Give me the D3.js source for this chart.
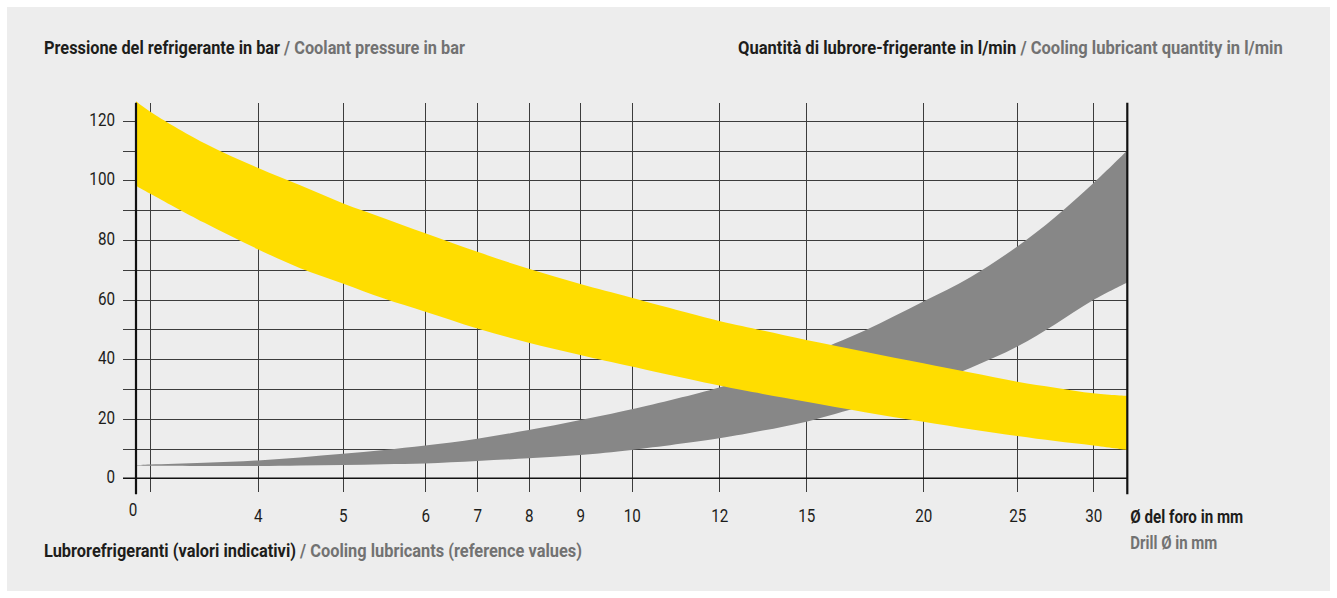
<!DOCTYPE html>
<html>
<head>
<meta charset="utf-8">
<script src="https://cdn.jsdelivr.net/npm/d3@7"></script>
<style>
  body { margin: 0; background: #fff; }
  svg { display: block; }
  text { font-family: "Roboto", "Liberation Sans", sans-serif; }
  .dark { fill: #1d1d1b; }
  .grey { fill: #727272; }
  .grid line { stroke: #3c3c3c; stroke-width: 1; shape-rendering: crispEdges; }
</style>
</head>
<body>
<div id="chart"></div>
<script>
// drill diameter samples (mm)
const diameters = [0, 3, 3.5, 4, 4.5, 5, 5.5, 6, 7, 8, 9, 10, 12, 13.5, 15, 17.5, 20, 22.5, 25, 27.5, 30, 32];
// coolant pressure band (bar), upper and lower edge
const pressureHigh = [126.5, 123, 112.5, 104.2, 98.3, 92.3, 87.3, 82.2, 76, 70.3, 65.2, 60.6, 52.8, 49.6, 46.4, 42.5, 38.6, 35.5, 32.4, 30.4, 28.5, 27.6];
const pressureLow = [98.2, 95.5, 85.8, 76.9, 70.5, 65.4, 60.3, 55.9, 50.3, 45.5, 41.4, 37.5, 31.1, 28.3, 25.7, 22.2, 19, 16.5, 14.2, 12.5, 11, 9.5];
// cooling lubricant quantity band (l/min), upper and lower edge
const flowHigh = [4.4, 4.6, 5.2, 6.0, 7.0, 8.2, 9.5, 11, 13.3, 16.2, 19.6, 23.2, 30.5, 35.3, 41.3, 49.6, 59.3, 67.5, 77.8, 87.7, 99, 110];
const flowLow = [4.3, 4.2, 4.15, 4.1, 4.3, 4.5, 4.75, 5.0, 5.8, 6.7, 7.8, 9.5, 13.4, 16, 19, 24.5, 30.8, 37, 44.2, 51.7, 59.8, 65.7];

// axis stops: the diameter axis is not uniform, so it is built piece by piece
const xStops = [0, 3, 4, 5, 6, 7, 8, 9, 10, 12, 15, 20, 25, 30, 32];
const xTickLabels = [4, 5, 6, 7, 8, 9, 10, 12, 15, 20, 25, 30];
const xGridValues = [3, 4, 5, 6, 7, 8, 9, 10, 12, 15, 20, 25, 30];
const yGridValues = d3.range(10, 130, 10);
const yTickLabels = [0, 20, 40, 60, 80, 100, 120];

const W = 1337, H = 598;
const xLeft = 136;
const xGaps = [14.3, 107.4, 85, 82.6, 52, 51.4, 51.6, 51.4, 87.6, 87, 117, 94, 76, 34];

const svg = d3.select("#chart").append("svg").attr("width", W).attr("height", H);
svg.append("rect").attr("x", 7).attr("y", 7).attr("width", W - 14).attr("height", H - 14).attr("fill", "#ededed");

let acc = xLeft;
const xRange = [xLeft].concat(xGaps.map(g => (acc += g)));
const x = d3.scaleLinear().domain(xStops).range(xRange);
const y = d3.scaleLinear().domain([0, 120]).range([478.3, 120.7]);
const xRight = x(32);
const yTop = y(126);

// the original face is a condensed sans, so squeeze the glyphs horizontally
function condense(sel, factor) {
    sel.each(function() {
        const w = this.getComputedTextLength();
        d3.select(this).attr("textLength", w * factor).attr("lengthAdjust", "spacingAndGlyphs");
    });
}

// grid
const grid = svg.append("g").attr("class", "grid");
grid.selectAll("line.h").data(yGridValues).enter().append("line")
    .attr("class", "h")
    .attr("x1", xLeft - 13).attr("x2", xRight)
    .attr("y1", d => Math.round(y(d)) + 0.5).attr("y2", d => Math.round(y(d)) + 0.5);
grid.selectAll("line.v").data(xGridValues).enter().append("line")
    .attr("class", "v")
    .attr("x1", d => Math.round(x(d)) + 0.5).attr("x2", d => Math.round(x(d)) + 0.5)
    .attr("y1", yTop).attr("y2", y(0) + 14);

// bands
const rows = diameters.map((d, i) => ({d: d, ph: pressureHigh[i], pl: pressureLow[i], fh: flowHigh[i], fl: flowLow[i]}));
const curve = d3.curveCatmullRom.alpha(0.5);
const flowArea = d3.area().curve(curve)
    .x(d => x(d.d)).y0(d => y(d.fl)).y1(d => y(d.fh));
const pressureArea = d3.area().curve(curve)
    .x(d => x(d.d)).y0(d => y(d.pl)).y1(d => y(d.ph));
svg.append("path").datum(rows).attr("d", flowArea).attr("fill", "#878787");
svg.append("path").datum(rows).attr("d", pressureArea).attr("fill", "#ffdd00");

// axis lines
svg.append("line").attr("x1", xLeft - 13).attr("x2", xRight).attr("y1", y(0)).attr("y2", y(0))
    .attr("stroke", "#111").attr("stroke-width", 1.5);
svg.append("line").attr("x1", xLeft).attr("x2", xLeft).attr("y1", yTop).attr("y2", y(0) + 16)
    .attr("stroke", "#111").attr("stroke-width", 2.2);
svg.append("line").attr("x1", xRight).attr("x2", xRight).attr("y1", yTop).attr("y2", y(0) + 16)
    .attr("stroke", "#111").attr("stroke-width", 2.2);

// tick labels
const yAxis = svg.append("g").attr("transform", "translate(" + (xLeft - 21) + ",0)")
    .call(d3.axisLeft(y).tickValues(yTickLabels).tickSize(0).tickPadding(0));
yAxis.select(".domain").remove();
yAxis.selectAll("text").attr("class", "dark").attr("dy", "0.24em").attr("fill", null)
    .style("font-size", "19px");

const xAxis = svg.append("g").attr("transform", "translate(0," + (y(0) + 43.5) + ")")
    .call(d3.axisBottom(x).tickValues(xTickLabels).tickSize(0).tickPadding(0));
xAxis.select(".domain").remove();
xAxis.selectAll("text").attr("class", "dark").attr("dy", 0).attr("fill", null)
    .style("font-size", "19px");
svg.selectAll("g").attr("font-family", null).attr("font-size", null);

svg.append("text").attr("class", "dark zero").attr("x", xLeft - 3).attr("y", y(0) + 38)
    .attr("text-anchor", "middle").style("font-size", "19px").text("0");

condense(yAxis.selectAll("text"), 0.8);
condense(xAxis.selectAll("text"), 0.8);
condense(svg.selectAll("text.zero"), 0.8);

// titles: bold Italian part, grey English part, squeezed to the reference width
function label(xp, yp, w, bold, grey, cls) {
    const g = svg.append("g");
    const t = g.append("text").style("font-size", "18.5px").style("font-weight", "bold");
    t.append("tspan").attr("class", cls || "dark").text(bold);
    if (grey) t.append("tspan").attr("class", "grey").text(grey);
    const natural = t.node().getComputedTextLength();
    g.attr("transform", "translate(" + xp + "," + yp + ") scale(" + (w / natural) + ",1)");
}
label(44, 54, 421, "Pressione del refrigerante in bar", " / Coolant pressure in bar");
label(738, 54, 545, "Quantità di lubrore-frigerante in l/min", " / Cooling lubricant quantity in l/min");
label(44, 557, 538, "Lubrorefrigeranti (valori indicativi)", " / Cooling lubricants (reference values)");
label(xRight + 3, 523, 113, "Ø del foro in mm");
label(xRight + 3, 549, 87, "Drill Ø in mm", null, "grey");
</script>
</body>
</html>
